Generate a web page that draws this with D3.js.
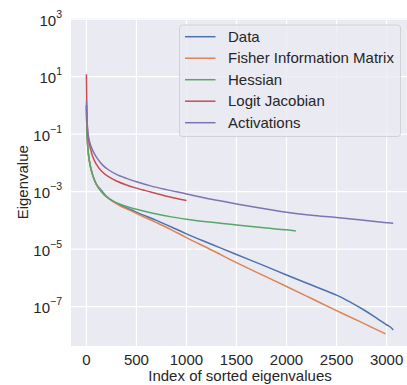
<!DOCTYPE html>
<html>
<head>
<meta charset="utf-8">
<script src="https://cdn.jsdelivr.net/npm/d3@7"></script>
<style>
  body { margin: 0; background: #fff; }
  svg text { font-family: Arial, "Liberation Sans", sans-serif; fill: #262626; }
</style>
</head>
<body>
<svg id="chart" width="407" height="385"></svg>
<script>
// series (index, eigenvalue)
var dataIdx = [0, 5, 15, 30, 60, 100, 160, 200, 270, 350, 450, 550, 700, 850, 1000, 1250, 1500, 1750, 2000, 2250, 2500, 2650, 2766, 2870, 2933, 3000, 3040, 3066];
var dataVal = [1, 0.158, 0.0316, 0.0112, 0.00398, 0.00178, 1e-3, 6.92e-4, 4.57e-4, 3.24e-4, 2.29e-4, 1.62e-4, 1e-4, 5.89e-5, 3.39e-5, 1.48e-5, 6.46e-6, 2.88e-6, 1.26e-6, 5.62e-7, 2.51e-7, 1.35e-7, 7.94e-8, 4.68e-8, 3.31e-8, 2.34e-8, 1.91e-8, 1.55e-8];

var fisherIdx = [0, 5, 15, 30, 60, 100, 160, 200, 270, 350, 450, 550, 700, 850, 1000, 1250, 1500, 1750, 2000, 2250, 2500, 2750, 2990];
var fisherVal = [0.891, 0.151, 0.0316, 0.0112, 0.00398, 0.00178, 9.33e-4, 6.61e-4, 4.37e-4, 3.02e-4, 2.09e-4, 1.45e-4, 8.32e-5, 4.68e-5, 2.51e-5, 9.33e-6, 3.39e-6, 1.29e-6, 5.01e-7, 1.91e-7, 7.24e-8, 2.82e-8, 1.12e-8];

var hessianIdx = [0, 5, 15, 30, 60, 100, 143, 200, 270, 350, 450, 550, 700, 850, 1000, 1250, 1500, 1750, 2000, 2093];
var hessianVal = [1, 0.158, 0.0316, 0.0120, 0.00398, 0.00178, 1.05e-3, 6.61e-4, 4.57e-4, 3.47e-4, 2.69e-4, 2.19e-4, 1.66e-4, 1.32e-4, 1.10e-4, 8.51e-5, 6.92e-5, 5.62e-5, 4.68e-5, 4.27e-5];

var logitIdx = [0, 2, 5, 10, 20, 40, 60, 100, 160, 220, 300, 400, 500, 650, 800, 1000];
var logitVal = [12.0, 3.16, 0.501, 0.158, 0.0708, 0.0316, 0.0178, 0.00891, 0.00479, 0.00331, 0.00234, 0.0017, 0.00132, 9.55e-4, 6.92e-4, 4.90e-4];

var actIdx = [0, 3, 8, 15, 30, 60, 100, 160, 220, 300, 400, 500, 650, 800, 1000, 1250, 1500, 1750, 2000, 2250, 2500, 2750, 3000, 3066];
var actVal = [1.35, 0.631, 0.251, 0.112, 0.0562, 0.0282, 0.0158, 0.00851, 0.00575, 0.00398, 0.00288, 0.00219, 0.00155, 0.00117, 8.32e-4, 5.37e-4, 3.72e-4, 2.63e-4, 1.91e-4, 1.51e-4, 1.26e-4, 1.02e-4, 8.32e-5, 7.94e-5];

var seriesNames = ["Data", "Fisher Information Matrix", "Hessian", "Logit Jacobian", "Activations"];
var seriesColors = ["#4c72b0", "#dd8452", "#55a868", "#c44e52", "#8172b3"];

var xTicks = [0, 500, 1000, 1500, 2000, 2500, 3000];
var yTickExp = [-7, -5, -3, -1, 1, 3];

var series = [
  {idx: dataIdx, val: dataVal},
  {idx: fisherIdx, val: fisherVal},
  {idx: hessianIdx, val: hessianVal},
  {idx: logitIdx, val: logitVal},
  {idx: actIdx, val: actVal}
];

var svg = d3.select("#chart");

var plotL = 71, plotT = 18.5, plotR = 409, plotB = 346;

var x = d3.scaleLinear().domain([-154, 3224]).range([plotL, plotR]);
var y = d3.scaleLog().domain([Math.pow(10, -8.37), Math.pow(10, 3.02)]).range([plotB, plotT]);

svg.append("defs").append("clipPath").attr("id", "plotclip")
  .append("rect").attr("x", plotL).attr("y", plotT)
  .attr("width", plotR - plotL).attr("height", plotB - plotT);

svg.append("rect")
  .attr("x", plotL).attr("y", plotT)
  .attr("width", plotR - plotL).attr("height", plotB - plotT)
  .style("fill", "#eaeaf2");

var grid = svg.append("g").attr("clip-path", "url(#plotclip)");

grid.selectAll("line.vx").data(xTicks).enter().append("line")
  .attr("x1", function(d) { return x(d); }).attr("x2", function(d) { return x(d); })
  .attr("y1", plotT).attr("y2", plotB)
  .style("stroke", "#fff").style("stroke-width", 1.2);

grid.selectAll("line.hy").data(yTickExp).enter().append("line")
  .attr("x1", plotL).attr("x2", plotR)
  .attr("y1", function(d) { return y(Math.pow(10, d)); })
  .attr("y2", function(d) { return y(Math.pow(10, d)); })
  .style("stroke", "#fff").style("stroke-width", 1.2);

// x tick labels
svg.selectAll("text.xt").data(xTicks).enter().append("text")
  .attr("x", function(d) { return x(d); })
  .attr("y", 365)
  .attr("text-anchor", "middle")
  .style("font-size", "15px")
  .text(function(d) { return d; });

// y tick labels as 10^n
var yt = svg.selectAll("text.yt").data(yTickExp).enter().append("text")
  .attr("x", 62)
  .attr("y", function(d) { return y(Math.pow(10, d)) + 6.5; })
  .attr("text-anchor", "end")
  .style("font-size", "15px");
yt.append("tspan").text("10");
yt.append("tspan")
  .attr("dy", -8)
  .style("font-size", "10.5px")
  .text(function(d) { return d < 0 ? "\u2212" + (-d) : d; });

svg.append("text")
  .attr("x", (plotL + plotR) / 2).attr("y", 381)
  .attr("text-anchor", "middle")
  .style("font-size", "15px")
  .text("Index of sorted eigenvalues");

svg.append("text")
  .attr("transform", "translate(28," + ((plotT + plotB) / 2) + ") rotate(-90)")
  .attr("text-anchor", "middle")
  .style("font-size", "15px")
  .text("Eigenvalue");

var line = d3.line()
  .x(function(d) { return x(d[0]); })
  .y(function(d) { return y(d[1]); })
  .curve(d3.curveCatmullRom.alpha(0.5));

var lines = svg.append("g").attr("clip-path", "url(#plotclip)");

series.forEach(function(s, i) {
  var pts = s.idx.map(function(v, j) { return [v, s.val[j]]; });
  lines.append("path")
    .datum(pts)
    .attr("d", line)
    .style("fill", "none")
    .style("stroke", seriesColors[i])
    .style("stroke-width", 1.5);
});

// legend
var legend = svg.append("g");
legend.append("rect")
  .attr("x", 179.5).attr("y", 25)
  .attr("width", 221).attr("height", 111.5)
  .attr("rx", 3)
  .style("fill", "#eaeaf2").style("fill-opacity", 0.8)
  .style("stroke", "#cccccc").style("stroke-width", 0.8);

var rowY = 36.7, rowStep = 21.5;
seriesNames.forEach(function(name, i) {
  var ry = rowY + i * rowStep;
  legend.append("line")
    .attr("x1", 185).attr("x2", 215.5)
    .attr("y1", ry).attr("y2", ry)
    .style("stroke", seriesColors[i]).style("stroke-width", 1.5);
  legend.append("text")
    .attr("x", 228).attr("y", ry + 5)
    .style("font-size", "15px")
    .text(name);
});
</script>
</body>
</html>
